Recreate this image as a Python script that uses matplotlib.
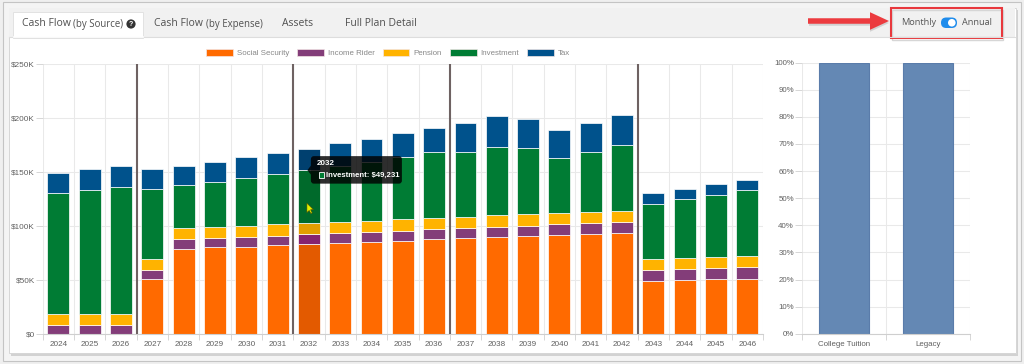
import matplotlib
matplotlib.use('Agg')
import matplotlib.pyplot as plt
from matplotlib import patches
import numpy as np

W, H = 1024, 364

# cash flow by source, in $K
years = list(range(2024, 2047))
social_security = [0, 0, 0, 50.6, 79.0, 80.2, 80.9, 82.4, 83.3, 84.5, 85.5, 86.4,
                   87.7, 88.6, 89.8, 90.7, 91.9, 92.9, 93.8, 49.4, 50.0, 50.6, 51.2]
income_rider = [8.3, 8.3, 8.3, 8.4, 8.7, 8.7, 8.9, 8.6, 9.0, 8.7, 8.9, 9.3,
                9.2, 9.5, 9.3, 9.6, 9.6, 9.9, 9.9, 9.9, 10.2, 10.2, 10.5]
pension = [10.5, 10.5, 10.5, 10.1, 10.4, 10.5, 10.5, 10.5, 10.2, 10.2, 10.5, 10.5,
           10.5, 10.2, 10.8, 10.5, 10.2, 10.2, 10.5, 10.1, 10.2, 10.5, 10.2]
investment = [111.5, 114.2, 117.3, 64.9, 39.6, 41.6, 44.5, 46.6, 49.231, 52.1, 54.6, 58.0,
              61.4, 59.9, 63.2, 61.1, 51.3, 55.8, 60.5, 51.0, 54.3, 57.1, 61.0]
tax = [19.1, 19.5, 19.8, 18.5, 18.2, 18.5, 18.8, 19.5, 20.0, 21.1, 21.4, 21.6,
       22.2, 27.5, 28.8, 27.5, 25.9, 26.9, 27.8, 9.8, 9.6, 10.2, 9.7]
series_names = ['Social Security', 'Income Rider', 'Pension', 'Investment', 'Tax']
series_colors = ['#ff6a00', '#833d79', '#ffb300', '#007c34', '#00528c']
hover_colors = ['#e35a00', '#86226f', '#e39d00', '#006a2b', '#00406f']
phase_starts = [2027, 2032, 2037, 2043]
hover_year = 2032
hover_series = 'Investment'

goals = ['College Tuition', 'Legacy']
goal_funded = [100, 100]

tab_labels = [('Cash Flow', '(by Source)'), ('Cash Flow', '(by Expense)'), ('Assets', ''), ('Full Plan Detail', '')]

UI_FONT = 'Open Sans'
CHART_FONT = 'Liberation Sans'


def fx(x):
    return x / W


def fy(y):
    return 1 - y / H


fig = plt.figure(figsize=(W / 100, H / 100), dpi=100, facecolor='#efefef')

# ---- page chrome (background layer, pixel coords) ----
bg = fig.add_axes([0, 0, 1, 1], zorder=0)
bg.set_xlim(0, W)
bg.set_ylim(H, 0)
bg.axis('off')
bg.add_patch(patches.Rectangle((2.5, 1.5), 1018, 359, fc='#f4f4f4', ec='#c4c4c4', lw=0.8))
bg.add_patch(patches.Rectangle((10.5, 10), 1007, 346, fc='#d2d2d2', ec='none'))
bg.add_patch(patches.Rectangle((8.5, 7.5), 1007, 345.5, fc='white', ec='#d6d6d6', lw=0.7))
bg.add_patch(patches.Rectangle((9, 8), 1006, 29, fc='#f1f1f1', ec='none'))
bg.plot([9, 1015], [37, 37], color='#dddddd', lw=0.8)
bg.add_patch(patches.Rectangle((13, 11.5), 130, 26, fc='white', ec='#e2e2e2', lw=0.7))
bg.plot([13.5, 142.5], [37.2, 37.2], color='white', lw=1.2)

tab_x = [(22, 73.3), (154.3, 205.7), (281.7, None), (345, None)]
for (main, sub), (x0, x1) in zip(tab_labels, tab_x):
    bg.text(x0, 24, main, fontsize=7.5, color='#505050', family=UI_FONT, va='center', ha='left')
    if sub:
        bg.text(x1, 24.5, sub, fontsize=6.9, color='#505050', family=UI_FONT, va='center', ha='left')
bg.add_patch(patches.Circle((131, 24), 4.6, fc='#333333', ec='none'))
bg.text(131, 24.3, '?', fontsize=5, color='white', weight='bold', family=CHART_FONT, ha='center', va='center')

# monthly / annual toggle with red callout
bg.add_patch(patches.Rectangle((892, 9.5), 111, 30, fc='none', ec='#d6d6d6', lw=1.0))
bg.add_patch(patches.Rectangle((891, 7.5), 111, 30, fc='none', ec='#e8383d', lw=1.5))
bg.text(901.3, 22.7, 'Monthly', fontsize=6.6, color='#555555', family=UI_FONT, va='center')
bg.text(962, 22.7, 'Annual', fontsize=6.6, color='#555555', family=UI_FONT, va='center')
bg.add_patch(patches.FancyBboxPatch((941, 17.5), 16, 10.5, boxstyle='round,pad=0,rounding_size=5.2',
                                    fc='#1f8cec', ec='none'))
bg.add_patch(patches.Circle((951.8, 22.75), 3.8, fc='white', ec='none'))
bg.add_patch(patches.FancyArrow(809, 23, 80, 0, width=5.5, head_width=17.6, head_length=19,
                                length_includes_head=True, fc='#bdbdbd', ec='none', alpha=0.6))
bg.add_patch(patches.FancyArrow(808, 21, 81, 0, width=5.5, head_width=17.6, head_length=19,
                                length_includes_head=True, fc='#ec3b3f', ec='none'))

# ---- cash flow stacked bars ----
ax = fig.add_axes([fx(42.7), fy(334), (763 - 42.7) / W, (334 - 64) / H], zorder=2, facecolor='none')
x = np.arange(len(years))
hover_i = years.index(hover_year)
series = [social_security, income_rider, pension, investment, tax]
bottom = np.zeros(len(years))
tops = {}
for name, vals, col, hcol in zip(series_names, series, series_colors, hover_colors):
    vals = np.array(vals)
    cols = [hcol if i == hover_i else col for i in range(len(years))]
    ax.bar(x, vals, width=0.7, bottom=bottom, color=cols, edgecolor='white', linewidth=0.5, zorder=2)
    bottom = bottom + vals
    tops[name] = bottom.copy()

for yr in phase_starts:
    ax.axvline(years.index(yr) - 0.5, color='#6e6262', lw=1.5, zorder=3)

ax.set_xlim(-0.5, len(years) - 0.5)
ax.set_ylim(0, 250)
ax.set_yticks(np.arange(0, 251, 50))
ax.set_yticklabels(['$0'] + ['$%dK' % v for v in range(50, 251, 50)])
ax.set_xticks(x)
ax.set_xticklabels([str(y) for y in years])
ax.set_xticks(np.arange(-0.5, len(years), 1), minor=True)
ax.grid(axis='y', color='#e9e9e9', lw=0.75, zorder=0)
ax.grid(axis='x', which='minor', color='#e9e9e9', lw=0.75, zorder=0)
for s in ['top', 'right', 'left']:
    ax.spines[s].set_visible(False)
ax.spines['bottom'].set_color('#cfcfcf')
ax.spines['bottom'].set_linewidth(0.8)
ax.tick_params(axis='y', length=5, color='#d6d6d6', width=0.7, pad=0.5, labelsize=5.9, labelcolor='#606060')
ax.tick_params(axis='x', which='major', length=0, pad=5.4, labelsize=5.9, labelcolor='#606060')
ax.tick_params(axis='x', which='minor', length=4.3, color='#d6d6d6', width=0.7)
for lbl in ax.get_xticklabels() + ax.get_yticklabels():
    lbl.set_family(CHART_FONT)

handles = [patches.Patch(fc=c, ec='#f3e6e6', lw=0.5) for c in series_colors]
leg = ax.legend(handles, series_names, ncol=5, loc='center', bbox_to_anchor=(fx(388), fy(53)),
                bbox_transform=fig.transFigure, frameon=False, handlelength=3.4,
                handleheight=0.9, handletextpad=0.5, columnspacing=1.0, borderpad=0, labelcolor='#888888',
                prop={'family': CHART_FONT, 'size': 5.7})

# ---- goal funding bars ----
ax2 = fig.add_axes([fx(801.7), fy(333.7), (970 - 801.7) / W, (333.7 - 62.7) / H], zorder=2, facecolor='none')
gx = np.arange(len(goals))
ax2.bar(gx, goal_funded, width=0.6, color='#6488b4', edgecolor='#5a7caa', linewidth=0.8, zorder=2)
ax2.set_xlim(-0.5, len(goals) - 0.5)
ax2.set_ylim(0, 100)
ax2.set_yticks(np.arange(0, 101, 10))
ax2.set_yticklabels(['%d%%' % v for v in range(0, 101, 10)])
ax2.set_xticks(gx)
ax2.set_xticklabels(goals)
ax2.set_xticks(np.arange(-0.5, len(goals), 1), minor=True)
ax2.grid(axis='y', color='#e9e9e9', lw=0.75, zorder=0)
ax2.grid(axis='x', which='minor', color='#e9e9e9', lw=0.75, zorder=0)
for s in ['top', 'right', 'left']:
    ax2.spines[s].set_visible(False)
ax2.spines['bottom'].set_color('#cfcfcf')
ax2.spines['bottom'].set_linewidth(0.8)
ax2.tick_params(axis='y', length=5, color='#d6d6d6', width=0.7, pad=0.5, labelsize=5.7, labelcolor='#606060')
ax2.tick_params(axis='x', which='major', length=0, pad=5.4, labelsize=5.7, labelcolor='#606060')
ax2.tick_params(axis='x', which='minor', length=4.3, color='#d6d6d6', width=0.7)
for lbl in ax2.get_xticklabels() + ax2.get_yticklabels():
    lbl.set_family(CHART_FONT)

# ---- tooltip + cursor (foreground layer, pixel coords) ----
fg = fig.add_axes([0, 0, 1, 1], zorder=5, facecolor='none')
fg.set_xlim(0, W)
fg.set_ylim(H, 0)
fg.axis('off')
hv = investment[hover_i]
dx, dy = ax.transData.transform((hover_i, tops[hover_series][hover_i]))
px, py = dx, H - dy
fg.add_patch(patches.FancyBboxPatch((px + 2, py - 14), 91, 27.5, boxstyle='round,pad=0,rounding_size=3',
                                    fc=(0, 0, 0, 0.82), ec='none'))
fg.add_patch(patches.Polygon([(px + 2, py - 4.5), (px - 1.5, py), (px + 2, py + 4.5)], closed=True,
                             fc=(0, 0, 0, 0.82), ec='none'))
fg.text(px + 8, py - 6.7, str(hover_year), fontsize=5.8, color='white', weight='bold',
        family=CHART_FONT, va='center')
fg.add_patch(patches.Rectangle((px + 10.3, py + 2.3), 5, 6, fc=series_colors[3], ec='white', lw=0.6))
fg.text(px + 17, py + 5.5, '%s: $%s' % (hover_series, format(int(round(hv * 1000)), ',')),
        fontsize=5.6, color='white', weight='bold', family=CHART_FONT, va='center')
cx, cy = px - 2, py + 33
fg.add_patch(patches.Polygon([(cx, cy), (cx, cy + 9.5), (cx + 2.3, cy + 7.3), (cx + 4, cy + 10.5),
                              (cx + 5.3, cy + 9.8), (cx + 3.7, cy + 6.6), (cx + 6.6, cy + 6.6)],
                             closed=True, fc='#e4f000', ec='#4d4d00', lw=0.4))

fig.savefig('out.png', dpi=100, facecolor=fig.get_facecolor())
